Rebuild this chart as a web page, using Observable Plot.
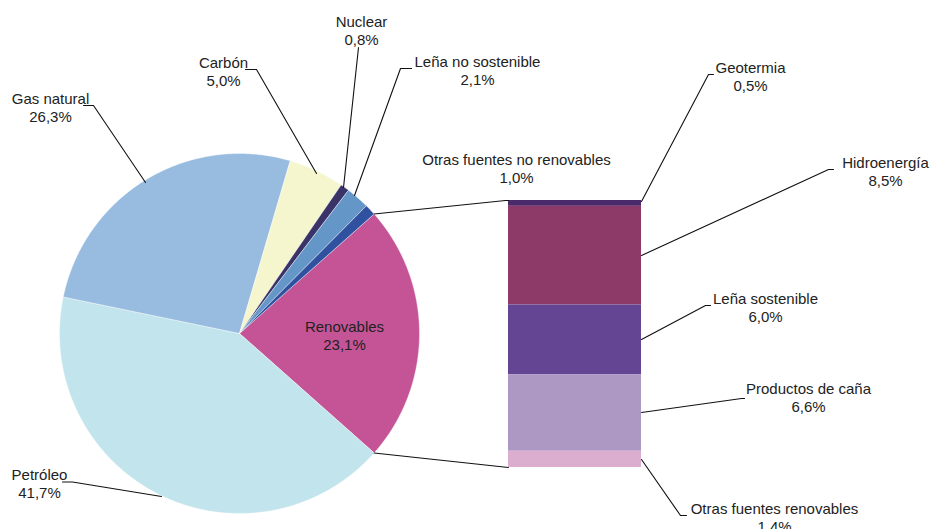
<!DOCTYPE html>
<html>
<head>
<meta charset="utf-8">
<script src="https://cdn.jsdelivr.net/npm/d3@7"></script>
<script src="https://cdn.jsdelivr.net/npm/@observablehq/plot@0.6"></script>
<style>
  html, body { margin: 0; padding: 0; background: #fff; }
  #chart { width: 938px; height: 529px; }
</style>
</head>
<body>
<div id="chart"></div>
<script>
// ---------- DATA ----------
const pieNames  = ["Renovables", "Petróleo", "Gas natural", "Carbón", "Nuclear", "Leña no sostenible", "Otras fuentes no renovables"];
const pieValues = [23.1, 41.7, 26.3, 5.0, 0.8, 2.1, 1.0];

const barNames  = ["Geotermia", "Hidroenergía", "Leña sostenible", "Productos de caña", "Otras fuentes renovables"];
const barValues = [0.5, 8.5, 6.0, 6.6, 1.4];

// ---------- STYLE / LAYOUT ----------
const pieColors = ["#C55497", "#C2E4EC", "#98BCE0", "#F5F6CE", "#3A3367", "#6496C8", "#3050A0"];
const barColors = ["#4A2A6A", "#8E3A68", "#634594", "#AD98C3", "#DBADCE"];

const W = 938, H = 529;
const pie = {cx: 239, cy: 333, r: 180};
const bar = {x1: 508, x2: 641, y1: 200, y2: 467};

// label anchors: [center x, baseline of first line]
const labelPos = {
  "Gas natural": [50, 102],
  "Carbón": [223, 66],
  "Nuclear": [361, 25],
  "Leña no sostenible": [477, 65],
  "Otras fuentes no renovables": [516, 163],
  "Renovables": [344, 330],
  "Petróleo": [39, 478],
  "Geotermia": [750, 71],
  "Hidroenergía": [885, 166],
  "Leña sostenible": [765, 302],
  "Productos de caña": [808, 392],
  "Otras fuentes renovables": [774, 512]
};
const leaderPts = {
  "Gas natural": [[83,105],[93,105],[145,182]],
  "Carbón": [[245,69],[256,69],[316,173]],
  "Nuclear": [[358,47],[343,187]],
  "Leña no sostenible": [[411,68],[400,68],[354,195]],
  "Petróleo": [[62,481.5],[72,481.5],[161,496]],
  "Geotermia": [[641,201],[708,74],[713,74]],
  "Hidroenergía": [[641,255],[828,169],[833,169]],
  "Leña sostenible": [[641,339],[705,305],[710,305]],
  "Productos de caña": [[641,412],[741,398],[744,398]],
  "Otras fuentes renovables": [[641,459],[680,515],[686,515]]
};

// ---------- BUILD ----------
const fmt = v => v.toFixed(1).replace(".", ",") + "%";
const total = d3.sum(pieValues);
const renovSpan = pieValues[0] / total * 2 * Math.PI;
const startA = Math.PI / 2 - renovSpan / 2;
const arcs = d3.pie().sort(null).startAngle(startA).endAngle(startA + 2 * Math.PI)(pieValues);

const pt = a => [pie.cx + pie.r * Math.sin(a), pie.cy - pie.r * Math.cos(a)];

const slicePts = [];
arcs.forEach((a, i) => {
  const name = pieNames[i];
  slicePts.push({name, x: pie.cx, y: pie.cy});
  const n = Math.max(2, Math.ceil((a.endAngle - a.startAngle) / (Math.PI / 360)));
  for (let k = 0; k <= n; k++) {
    const ang = a.startAngle + (a.endAngle - a.startAngle) * k / n;
    const [x, y] = pt(ang);
    slicePts.push({name, x, y});
  }
  slicePts.push({name, x: pie.cx, y: pie.cy});
});

const barTotal = d3.sum(barValues);
const kBar = (bar.y2 - bar.y1) / barTotal;
let acc = 0;
const barRects = barNames.map((name, i) => {
  const r = {name, y1: bar.y1 + acc * kBar, y2: bar.y1 + (acc + barValues[i]) * kBar};
  acc += barValues[i];
  return r;
});

// connector lines between pie split and bar
const [tx, ty] = pt(arcs[0].startAngle);
const [bx, by] = pt(arcs[0].endAngle);
const connectors = [
  {id: "top", x: tx, y: ty}, {id: "top", x: bar.x1 - 3, y: bar.y1}, {id: "top", x: bar.x1, y: bar.y1},
  {id: "bot", x: bx, y: by}, {id: "bot", x: bar.x1, y: bar.y2}
];

const leaders = [];
Object.entries(leaderPts).forEach(([id, pts]) => pts.forEach(([x, y]) => leaders.push({id, x, y})));

const labels = [];
pieNames.forEach((n, i) => labels.push({n, t: n + "\n" + fmt(pieValues[i])}));
barNames.forEach((n, i) => labels.push({n, t: n + "\n" + fmt(barValues[i])}));
labels.forEach(l => { l.x = labelPos[l.n][0]; l.y = labelPos[l.n][1] - 10.7; });

const chart = Plot.plot({
  width: W, height: H,
  margin: 0,
  style: {fontFamily: "'Liberation Sans', Arial, Helvetica, sans-serif", background: "#fff"},
  x: {domain: [0, W], range: [0, W], axis: null},
  y: {domain: [0, H], range: [0, H], axis: null},
  color: {domain: [...pieNames, ...barNames], range: [...pieColors, ...barColors]},
  marks: [
    Plot.line(slicePts, {x: "x", y: "y", z: "name", fill: "name", stroke: "#fff", strokeWidth: 0.4, curve: "linear"}),
    Plot.rect(barRects, {x1: bar.x1, x2: bar.x2, y1: "y1", y2: "y2", fill: "name"}),
    Plot.line(connectors, {x: "x", y: "y", z: "id", stroke: "#111", strokeWidth: 1.1}),
    Plot.line(leaders, {x: "x", y: "y", z: "id", stroke: "#111", strokeWidth: 1.1}),
    Plot.text(labels, {x: "x", y: "y", text: "t", textAnchor: "middle", lineAnchor: "top", lineHeight: 1.17, fontSize: 15, fill: "#222"})
  ]
});
document.getElementById("chart").appendChild(chart);
</script>
</body>
</html>
